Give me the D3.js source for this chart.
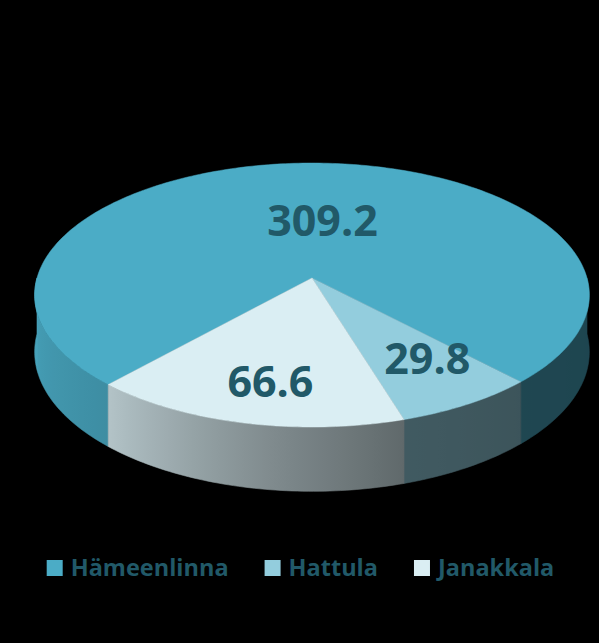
<!DOCTYPE html>
<html>
<head>
<meta charset="utf-8">
<script src="https://cdn.jsdelivr.net/npm/d3@7"></script>
<style>
  html, body { margin: 0; padding: 0; background: #000; }
  #chart { width: 599px; height: 643px; }
</style>
</head>
<body>
<div id="chart"></div>
<script>
// Data
const categories = ['Hämeenlinna', 'Hattula', 'Janakkala'];
const values = [309.2, 29.8, 66.6];
const labels = ['309.2', '29.8', '66.6'];

// Styling
const topColors = ['#4bacc6', '#93cddd', '#daeef3'];
const textColor = '#215968';
const labelRadius = [0.47, 0.70, 0.74];
const labelNudge = [[12, 0], [10, -5], [7, 0]];

function renderPie3D(elementId) {
    const container = document.getElementById(elementId);
    const width = 599, height = 643;

    const svg = d3.select(container)
        .append('svg')
        .attr('width', width)
        .attr('height', height)
        .style('background', '#000');
    const defs = svg.append('defs');

    // Perspective-ish projection of the pie disk
    const cx = 312, cy = 278, rx = 275, ry = 129.8, k = 0.129, depth = 56;
    function proj(theta, rho, h) {
        const s = 1 / (1 - k * rho * Math.sin(theta));
        return [cx + rx * rho * Math.cos(theta) * s, cy + ry * rho * Math.sin(theta) * s + (h || 0) * s];
    }

    // Side shading by facing angle (degrees, screen clockwise from +x)
    const shade = d3.scaleLinear()
        .domain([0, 46, 73, 100, 132, 180])
        .range([0.40, 0.41, 0.44, 0.60, 0.82, 0.95])
        .clamp(true);
    function shadeColor(base, theta) {
        let deg = ((theta * 180 / Math.PI) % 360 + 360) % 360;
        const f = shade(deg);
        const c = d3.rgb(base);
        return d3.rgb(c.r * f, c.g * f, c.b * f).formatHex();
    }

    // Pie layout: Hattula starts at 46.5deg screen angle
    const hattStart = 46.5 * Math.PI / 180;
    const total = d3.sum(values);
    const startScreen = hattStart - values[0] / total * 2 * Math.PI;
    const pie = d3.pie().sort(null).value(d => d)
        .startAngle(startScreen + Math.PI / 2)
        .endAngle(startScreen + Math.PI / 2 + 2 * Math.PI);
    const arcs = pie(values).map((a, i) => ({
        i: i,
        a0: a.startAngle - Math.PI / 2,
        a1: a.endAngle - Math.PI / 2
    }));

    const line = d3.line();
    function ring(a0, a1, h) {
        const n = Math.max(2, Math.ceil(Math.abs(a1 - a0) / (Math.PI / 180)));
        return d3.range(n + 1).map(j => proj(a0 + (a1 - a0) * j / n, 1, h));
    }

    // Sides (front half only)
    const sideG = svg.append('g');
    arcs.forEach(s => {
        [-2, 0, 2, 4].forEach(m => {
            const lo = Math.max(s.a0, m * Math.PI);
            const hi = Math.min(s.a1, m * Math.PI + Math.PI);
            if (hi - lo <= 0.0001) return;
            const pts = ring(lo, hi, 0).concat(ring(hi, lo, depth));
            const xs = pts.map(p => p[0]);
            const x1 = d3.min(xs), x2 = d3.max(xs);
            const gid = `side-${s.i}-${m + 2}`;
            const grad = defs.append('linearGradient')
                .attr('id', gid)
                .attr('gradientUnits', 'userSpaceOnUse')
                .attr('x1', x1).attr('x2', x2).attr('y1', 0).attr('y2', 0);
            const stops = d3.range(13).map(j => lo + (hi - lo) * j / 12)
                .map(t => ({ off: (proj(t, 1)[0] - x1) / (x2 - x1), col: shadeColor(topColors[s.i], t) }))
                .sort((a, b) => a.off - b.off);
            grad.selectAll('stop')
                .data(stops)
                .enter()
                .append('stop')
                .attr('offset', d => Math.max(0, Math.min(1, d.off)))
                .attr('stop-color', d => d.col);
            sideG.append('path')
                .attr('d', line(pts) + 'Z')
                .attr('fill', `url(#${gid})`)
                .attr('stroke', `url(#${gid})`)
                .attr('stroke-width', 0.6);
        });
    });

    // Top faces
    svg.append('g')
        .selectAll('path')
        .data(arcs)
        .enter()
        .append('path')
        .attr('d', d => line([proj(0, 0)].concat(ring(d.a0, d.a1, 0))) + 'Z')
        .attr('fill', d => topColors[d.i])
        .attr('stroke', d => topColors[d.i])
        .attr('stroke-width', 0.5);

    // Value labels
    svg.append('g')
        .selectAll('text')
        .data(arcs)
        .enter()
        .append('text')
        .attr('x', d => proj((d.a0 + d.a1) / 2, labelRadius[d.i])[0] + labelNudge[d.i][0])
        .attr('y', d => proj((d.a0 + d.a1) / 2, labelRadius[d.i])[1] + labelNudge[d.i][1])
        .attr('dy', '0.36em')
        .attr('text-anchor', 'middle')
        .attr('font-family', '"Open Sans", sans-serif')
        .attr('font-weight', 'bold')
        .attr('font-size', '43px')
        .attr('fill', textColor)
        .text(d => labels[d.i]);

    // Legend
    const legend = svg.append('g');
    const items = legend.selectAll('g')
        .data(categories)
        .enter()
        .append('g');
    items.append('rect')
        .attr('width', 16).attr('height', 16)
        .attr('y', -8)
        .attr('fill', (d, i) => topColors[i]);
    items.append('text')
        .attr('x', 24)
        .attr('dy', '0.36em')
        .attr('font-family', '"Open Sans", sans-serif')
        .attr('font-weight', 'bold')
        .attr('font-size', '23.5px')
        .attr('fill', textColor)
        .text(d => d);
    let xPos = 0;
    items.each(function () {
        const w = 24 + this.querySelector('text').getComputedTextLength();
        d3.select(this).attr('transform', `translate(${xPos},0)`);
        xPos += w + 36;
    });
    const legendWidth = xPos - 36;
    legend.attr('transform', `translate(${(width - legendWidth) / 2 + 1},568)`);
}

renderPie3D('chart');
</script>
</body>
</html>
